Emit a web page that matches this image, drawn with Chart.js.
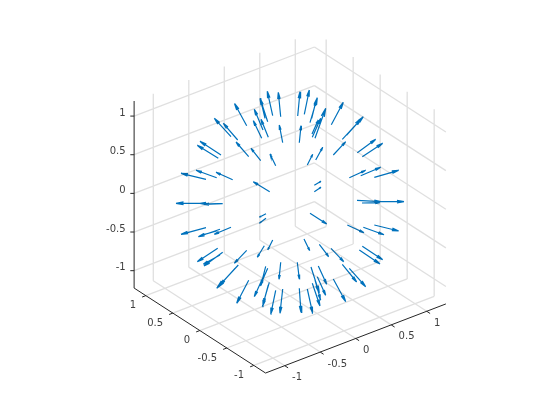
<!DOCTYPE html>
<html><head><meta charset="utf-8">
<style>html,body{margin:0;padding:0;background:#fff}canvas{display:block}</style>
<script src="https://cdn.jsdelivr.net/npm/chart.js@4/dist/chart.umd.min.js"></script>
</head><body><canvas id="c" width="560" height="420"></canvas>
<script>
// Tick values of the three axes
const xTicks = [-1, -0.5, 0, 0.5, 1];
const yTicks = [-1, -0.5, 0, 0.5, 1];
const zTicks = [-1, -0.5, 0, 0.5, 1];
const tickLabels = ['-1', '-0.5', '0', '0.5', '1'];
// Axis limits
const xLim = [-1.27, 1.27];
const yLim = [-1.217, 1.217];
const zLim = [-1.225, 1.195];
// Arrows, in view-plane units about the sphere centre
const headU = [-55.5,-22.7,-11.7,-36.7,-29,-30,-29.3,-35.7,-10.7,-20,-39,-75.7,-66.7,-54,-90,-92.7,-109,-94,-74,-36.7,-114,-90,-86,
 10,19.3,27.3,26,35.7,30.7,28.3,53.3,11,73.3,71.7,55.7,32.7,22.7,85.7,92.7,90.7,75.7,108.7,31,31,114,90.7,90,
 -109,-91.7,-90,-75.7,-92.7,-86,-86.7,-55.7,-73.3,-70,-53.3,-32.7,-22.3,-30,-29,-35.7,-27.7,-26.7,-19.3,-10,-11,-30.7,-30.7,
 36.7,74,94,108.7,92.7,90,53.7,38.7,19.7,9.3,66.7,75.7,55.7,36.7,29.3,35.7,30,30.7,22.7,11];
const headV = [97.5,109.7,108.7,80.3,81.7,102.7,101,91.7,76,47,52.7,82.7,77.7,59,59.7,55.7,27.7,30.7,28.7,19.3,-2.3,-2.3,-3.3,
 109.3,111,103.3,100,92.7,82.7,81,98.7,75.3,84.3,82.7,59.3,53.7,46.7,61.7,57.7,33.7,30.7,30.7,19.7,13.7,-0.7,-0.7,-1.7,
 -33.3,-35.7,-34.7,-33.3,-60.7,-65,-63.3,-62.3,-87.3,-84,-102.3,-56.3,-49,-85,-84,-95.7,-105.7,-102.3,-113.3,-112.3,-78.3,-16.3,-22.3,
 -23,-31.7,-33.7,-30,-58.7,-63,-60.7,-55.7,-49.7,-78,-81,-85.7,-100.7,-83.3,-92,-94.3,-105,-99,-112.3,-111.3];
const tailU = [-43.3,-17.3,-9.3,-28.3,-21.7,-22.3,-25,-27,-7.3,-14.3,-29.3,-59,-52.3,-41.3,-69,-71.7,-84,-73.3,-57.3,-20.3,-86,-67.3,-67.3,
 7.7,14.3,20,21.7,25,22.3,22,41.3,9.3,56.7,52.3,43.3,25.7,17.3,67.3,72.3,70.7,59.3,84.3,24.3,24.3,88,67,72,
 -84,-70,-73.3,-59,-72.3,-67.3,-70,-43.3,-51.7,-55,-41.3,-25.7,-17.3,-22.3,-24.3,-26.7,-20.7,-21.7,-14.3,-7.3,-9.3,-24,-24,
 20,57.3,73.3,84.3,72.3,69.3,41,29.3,14,7.3,52.3,59.3,43.3,28.3,21,27.3,22.3,25,17.3,9.3];
const tailV = [75.3,85.3,84.3,62.7,63.7,79.3,82.7,71,58.3,35.3,40.3,64.3,61,44.3,46,42.7,21.7,23.3,21.3,9.3,-2.3,-3,-2.7,
 85,86.7,78.3,82.7,62.7,63.7,67,76.3,58.3,66,61.7,46,41,36,48.3,44.3,25.3,23.3,23.7,15.7,9.3,-0.7,0.7,-2,
 -26.7,-28.3,-30,-26.3,-47.3,-51.3,-54,-49.3,-64,-67.3,-79.3,-44.7,-39,-67.3,-65.3,-75.7,-81.3,-84,-89.3,-88,-61.3,-12.7,-17.3,
 -12.3,-24,-26.3,-24,-45.3,-49,-47.3,-43.3,-38,-61.3,-63.3,-67.3,-78,-65,-66,-75.7,-82.3,-79,-88,-87.3];

const DARK = '#262626', TEXT = '#404040', GRID = 'rgba(38,38,38,0.15)', BLUE = '#0072BD';
// Oblique view of the axes box
function view(x, y, z) {
  return { x: x * 71 - y * 54, y: -95 + x * 27.2 + y * 34.9 + (z - zLim[0]) * 77.3 };
}
const GAP = { x: NaN, y: NaN };
function seg(list, p, q) { list.push(p, q, GAP); }

const gridPts = [];
xTicks.forEach(t => {
  seg(gridPts, view(t, yLim[0], zLim[0]), view(t, yLim[1], zLim[0]));
  seg(gridPts, view(t, yLim[1], zLim[0]), view(t, yLim[1], zLim[1]));
});
yTicks.forEach(t => {
  seg(gridPts, view(xLim[0], t, zLim[0]), view(xLim[1], t, zLim[0]));
  seg(gridPts, view(xLim[1], t, zLim[0]), view(xLim[1], t, zLim[1]));
});
zTicks.forEach(t => {
  seg(gridPts, view(xLim[0], yLim[1], t), view(xLim[1], yLim[1], t));
  seg(gridPts, view(xLim[1], yLim[1], t), view(xLim[1], yLim[0], t));
});

const axisPts = [];
seg(axisPts, view(xLim[0], yLim[1], zLim[0]), view(xLim[0], yLim[1], zLim[1]));
seg(axisPts, view(xLim[0], yLim[1], zLim[0]), view(xLim[0], yLim[0], zLim[0]));
seg(axisPts, view(xLim[0], yLim[0], zLim[0]), view(xLim[1], yLim[0], zLim[0]));
yTicks.forEach(t => { const p = view(xLim[0], t, zLim[0]); seg(axisPts, p, { x: p.x - 3.7, y: p.y - 1.4 }); });
xTicks.forEach(t => { const p = view(t, yLim[0], zLim[0]); seg(axisPts, p, { x: p.x + 3.4, y: p.y - 2.2 }); });
zTicks.forEach(t => { const p = view(xLim[0], yLim[1], t); seg(axisPts, p, { x: p.x - 3.8, y: p.y }); });

const arrowPts = [];
headU.forEach((hu, i) => {
  const h = { x: hu, y: headV[i] }, t = { x: tailU[i], y: tailV[i] };
  const dx = h.x - t.x, dy = h.y - t.y;
  seg(arrowPts, t, h);
  [1, -1].forEach(s => {
    arrowPts.push(h, { x: h.x - 0.27 * dx - s * 0.05 * dy, y: h.y - 0.27 * dy + s * 0.05 * dx }, GAP);
  });
});

const labelPlugin = {
  id: 'tickText',
  afterDatasetsDraw(chart) {
    const c = chart.ctx, sx = chart.scales.x, sy = chart.scales.y;
    c.save();
    c.font = '10px "DejaVu Sans"';
    c.fillStyle = TEXT;
    c.textBaseline = 'middle';
    const put = (p, dx, dy, s, align) => {
      c.textAlign = align;
      c.fillText(s, sx.getPixelForValue(p.x) + dx, sy.getPixelForValue(p.y) + dy, 40);
    };
    yTicks.forEach((t, i) => put(view(xLim[0], t, zLim[0]), -9.8, 10, tickLabels[i], 'right'));
    xTicks.forEach((t, i) => put(view(t, yLim[0], zLim[0]), 7.4, 12, tickLabels[i], 'left'));
    zTicks.forEach((t, i) => put(view(xLim[0], yLim[1], t), -8.5, -3, tickLabels[i], 'right'));
    c.restore();
  }
};
const line = (data, color, w) => ({ data, borderColor: color, borderWidth: w, showLine: true, pointRadius: 0, spanGaps: false, tension: 0, fill: false });

new Chart(document.getElementById('c'), {
  type: 'scatter',
  data: { datasets: [line(gridPts, GRID, 1.3), line(axisPts, DARK, 1), line(arrowPts, BLUE, 1.2)] },
  options: {
    responsive: false, animation: false, devicePixelRatio: 1,
    layout: { padding: 0 },
    plugins: { legend: { display: false }, tooltip: { enabled: false } },
    scales: {
      x: { type: 'linear', min: -290, max: 270, display: false },
      y: { type: 'linear', min: -219, max: 201, display: false }
    }
  },
  plugins: [labelPlugin]
});
</script></body></html>
